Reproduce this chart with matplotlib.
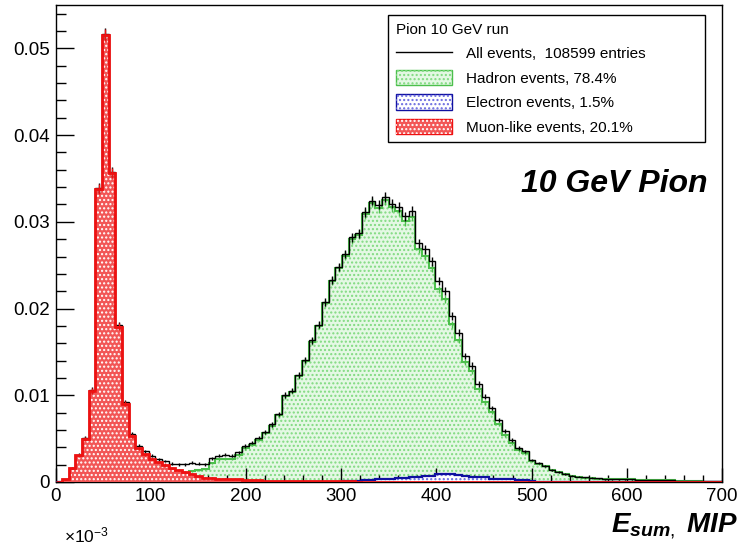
import matplotlib
matplotlib.use("Agg")
import matplotlib.pyplot as plt
import numpy as np
from matplotlib.lines import Line2D
from matplotlib.patches import Patch
from matplotlib.ticker import MultipleLocator, FuncFormatter

plt.rcParams['font.family'] = ['Liberation Sans', 'DejaVu Sans']
plt.rcParams['mathtext.fontset'] = 'custom'
plt.rcParams['mathtext.rm'] = 'Liberation Sans'
plt.rcParams['mathtext.it'] = 'Liberation Sans:bold:italic'
plt.rcParams['mathtext.bf'] = 'Liberation Sans:bold'
plt.rcParams['hatch.linewidth'] = 1.0

# E_sum binning: 100 bins of 7 MIP from 0 to 700
edges = np.linspace(0, 700, 101)
n_entries = 108599

# fraction of events per bin, muon-like events
muon = ([0.0, 0.0003, 0.0016, 0.0031, 0.0050, 0.0105, 0.0338, 0.0515, 0.0356, 0.0179,
         0.0090, 0.0053, 0.0039, 0.0032, 0.0027, 0.0023, 0.0020, 0.0016, 0.0014, 0.0012,
         0.0009, 0.0007, 0.0005, 0.0005, 0.0004, 0.0004, 0.0003, 0.0003, 0.0002, 0.0002,
         0.0002] + [0.0001] * 14 + [0.00003] * 55)

# electron events
electron = ([0.00003] * 43 +
            [0.0001, 0.0001, 0.00015, 0.0002, 0.0002, 0.00035, 0.00035, 0.00035, 0.0005, 0.0005,
             0.0006, 0.0006, 0.0007, 0.0007, 0.0009, 0.0009, 0.0009, 0.0008, 0.0007, 0.0006,
             0.0006, 0.0006, 0.0004, 0.0004, 0.0004, 0.0003, 0.0002, 0.0002, 0.0001, 0.00005] +
            [0.0] * 27)

# hadron events
hadron = [0.0, 0.0, 0.0, 0.00003, 0.00005, 0.00008, 0.0001, 0.0001, 0.0001, 0.00012,
          0.00015, 0.0002, 0.0002, 0.0003, 0.0003, 0.0003, 0.0004, 0.0005, 0.0006, 0.0008,
          0.0013, 0.0014, 0.0015, 0.0022, 0.0026, 0.0027, 0.0027, 0.0031, 0.0039, 0.0043,
          0.0049, 0.0056, 0.0065, 0.0077, 0.0099, 0.0104, 0.0122, 0.0139, 0.0162, 0.0180,
          0.0206, 0.0232, 0.0247, 0.0261, 0.0280, 0.0285, 0.0309, 0.0322, 0.0316, 0.0325,
          0.0317, 0.0312, 0.0301, 0.0306, 0.0269, 0.0261, 0.0247, 0.0222, 0.0211, 0.0182,
          0.0164, 0.0138, 0.0128, 0.0107, 0.0092, 0.0081, 0.0067, 0.0054, 0.0045, 0.0037,
          0.0033, 0.0024, 0.0021, 0.0018, 0.0014, 0.0011, 0.0009, 0.0007, 0.0006, 0.0005,
          0.00045, 0.0004, 0.0003, 0.0003, 0.0003, 0.0003, 0.0003, 0.0002, 0.0002, 0.0002,
          0.0002, 0.0002, 0.0002, 0.0001, 0.0001, 0.0001, 0.0001, 0.00005, 0.00005, 0.00005]

muon = np.array(muon)
electron = np.array(electron)
hadron = np.array(hadron)
all_ev = hadron + electron + muon

labels = ["All events,  108599 entries", "Hadron events, 78.4%",
          "Electron events, 1.5%", "Muon-like events, 20.1%"]

centers = 0.5 * (edges[1:] + edges[:-1])


def err(v):
    return np.sqrt(v / n_entries)


green_line, green_fill, green_dot = '#4cbf4c', '#e4f8e4', '#80da80'
blue_line, blue_dot = '#1010a0', '#6a6ae0'
red_line, red_fill = '#ee1111', '#f25656'

fig = plt.figure(figsize=(7.41, 5.46), dpi=100)
ax = fig.add_axes([55.5 / 741, 1 - 482 / 546, 666.5 / 741, 477 / 546])

# hadrons
ax.stairs(hadron, edges, fill=True, facecolor=green_fill, edgecolor='none', zorder=1)
ax.stairs(hadron, edges, fill=True, facecolor='none', edgecolor=green_dot, hatch='....', lw=0, zorder=1)
ax.stairs(hadron, edges, color=green_line, lw=1.5, zorder=2)
ax.errorbar(centers, hadron, yerr=err(hadron), fmt='none', ecolor=green_line, elinewidth=1, zorder=2)

# electrons
ax.stairs(electron, edges, fill=True, facecolor='white', edgecolor='none', zorder=3)
ax.stairs(electron, edges, fill=True, facecolor='none', edgecolor=blue_dot, hatch='....', lw=0, zorder=3)
ax.stairs(electron, edges, color=blue_line, lw=1.6, zorder=4)

# muons
ax.stairs(muon, edges, fill=True, facecolor=red_fill, edgecolor='none', zorder=5)
ax.stairs(muon, edges, fill=True, facecolor='none', edgecolor='white', hatch='....', lw=0, zorder=5)

# all events
ax.stairs(all_ev, edges, color='black', lw=1, zorder=6)
ax.errorbar(centers, all_ev, yerr=err(all_ev), fmt='none', ecolor='black', elinewidth=1, zorder=6)

ax.stairs(muon, edges, color=red_line, lw=2, zorder=7)
ax.errorbar(centers, muon, yerr=err(muon), fmt='none', ecolor=red_line, elinewidth=1, zorder=7)

ax.set_xlim(0, 700)
ax.set_ylim(0, 0.055)
ax.xaxis.set_major_locator(MultipleLocator(100))
ax.xaxis.set_minor_locator(MultipleLocator(20))
ax.yaxis.set_major_locator(MultipleLocator(0.01))
ax.yaxis.set_minor_locator(MultipleLocator(0.002))
ax.yaxis.set_major_formatter(FuncFormatter(lambda v, p: '0' if abs(v) < 1e-9 else f'{v:.2f}'))
ax.tick_params(axis='both', which='both', direction='in', top=False, right=False,
               labelsize=13.5, width=1)
ax.tick_params(axis='x', which='major', length=10, pad=4)
ax.tick_params(axis='x', which='minor', length=5)
ax.tick_params(axis='y', which='major', length=13, pad=4)
ax.tick_params(axis='y', which='minor', length=7)
for s in ax.spines.values():
    s.set_linewidth(1)

handles = [
    Line2D([], [], color='black', lw=1),
    (Patch(facecolor=green_fill, edgecolor=green_line, lw=1),
     Patch(facecolor='none', edgecolor=green_dot, hatch='....', lw=0)),
    (Patch(facecolor='white', edgecolor=blue_line, lw=1),
     Patch(facecolor='none', edgecolor=blue_dot, hatch='....', lw=0)),
    (Patch(facecolor=red_fill, edgecolor=red_line, lw=1),
     Patch(facecolor='none', edgecolor='white', hatch='....', lw=0)),
]
leg = ax.legend(handles, labels, title='Pion 10 GeV run', title_fontsize=11, fontsize=11,
                loc='upper left', bbox_to_anchor=(0.499, 0.979, 0.476, 0), mode='expand',
                borderaxespad=0, fancybox=False, framealpha=1, edgecolor='black',
                handlelength=3.7, handleheight=1.2, handletextpad=0.9, labelspacing=0.56,
                borderpad=0.5, alignment='left')
leg.get_frame().set_linewidth(1)
leg.set_zorder(10)

ax.text(0.9775, 0.608, '10 GeV Pion', transform=ax.transAxes, ha='right', va='baseline',
        fontsize=23, fontweight='bold', fontstyle='italic')

fig.text(738 / 741, 1 - 532 / 546, r'$E_{sum,}$ MIP', ha='right', va='baseline',
         fontsize=20, fontweight='bold', fontstyle='italic')
fig.text(64 / 741, 1 - 542 / 546, r'×10$^{\mathrm{-3}}$', ha='left', va='baseline', fontsize=12.5)

fig.savefig('out.png', dpi=100)
